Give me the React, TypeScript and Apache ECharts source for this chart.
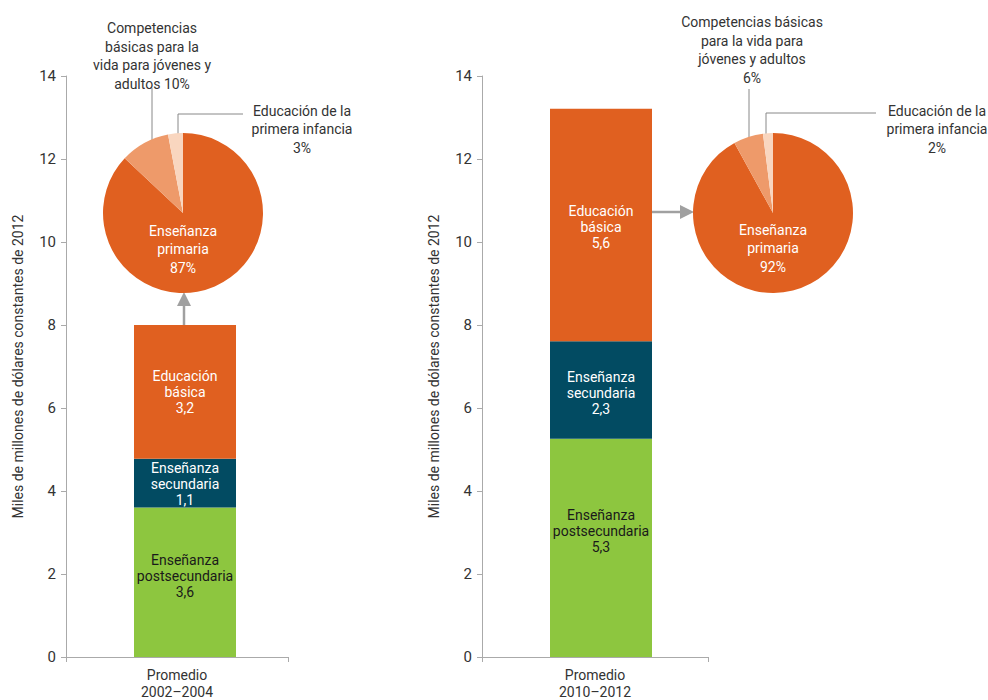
import React, { useEffect, useRef } from 'react';
import * as echarts from 'echarts';

// ---------- data ----------
const categories2002 = ['Promedio\n2002–2004'];
const categories2010 = ['Promedio\n2010–2012'];
const segmentNames = ['Enseñanza\npostsecundaria', 'Enseñanza\nsecundaria', 'Educación\nbásica'];
const values2002 = [3.6, 1.18, 3.22];
const labels2002 = ['3,6', '1,1', '3,2'];
const values2010 = [5.26, 2.35, 5.6];
const labels2010 = ['5,3', '2,3', '5,6'];

const pieNames2002 = [
  'Enseñanza\nprimaria',
  'Competencias\nbásicas para la\nvida para jóvenes y\nadultos',
  'Educación de la\nprimera infancia',
];
const pieSep2002 = ['\n', ' ', '\n'];
const pieValues2002 = [87, 10, 3];

const pieNames2010 = [
  'Enseñanza\nprimaria',
  'Competencias básicas\npara la vida para\njóvenes y adultos',
  'Educación de la\nprimera infancia',
];
const pieSep2010 = ['\n', '\n', '\n'];
const pieValues2010 = [92, 6, 2];

const yAxisTitle = 'Miles de millones de dólares constantes de 2012';
const yMin = 0;
const yMax = 14;
const yInterval = 2;

// ---------- styles ----------
const FONT = 'Roboto, "Open Sans", sans-serif';
const segmentColors = ['#8DC63F', '#024B62', '#E06020'];
const segmentLabelColors = ['#1a1a1a', '#ffffff', '#ffffff'];
const pieColors = ['#E06020', '#EE9A6A', '#F9D6BF'];
const AXIS_GRAY = '#aaaaaa';
const TEXT = '#333333';
const ARROW = '#a0a0a0';

function barSeries(g: number, values: number[], labels: string[], offsets: number[][], padWidth: number) {
  const pad = {
    type: 'bar',
    xAxisIndex: g,
    yAxisIndex: g,
    stack: 'pad' + g,
    barWidth: padWidth,
    barGap: '0%',
    data: [0],
    itemStyle: { color: 'rgba(0,0,0,0)' },
    label: { show: false },
    silent: true,
  };
  const segs = values.map((v, i) => ({
    type: 'bar',
    name: segmentNames[i].replace('\n', ' '),
    xAxisIndex: g,
    yAxisIndex: g,
    stack: 'total' + g,
    barWidth: 102,
    barGap: '0%',
    data: [v],
    itemStyle: { color: segmentColors[i] },
    silent: true,
    label: {
      show: true,
      position: 'inside',
      formatter: segmentNames[i] + '\n' + labels[i],
      color: segmentLabelColors[i],
      fontFamily: FONT,
      fontSize: 14,
      lineHeight: 16,
      offset: offsets[i],
    },
  }));
  return [pad, ...segs];
}

function pieSeries(
  center: number[],
  names: string[],
  values: number[],
  seps: string[],
  layout: any[],
) {
  return {
    type: 'pie',
    center,
    radius: 80,
    startAngle: 90,
    clockwise: true,
    avoidLabelOverlap: false,
    silent: true,
    data: names.map((n, i) => ({
      name: n,
      value: values[i],
      itemStyle: { color: pieColors[i] },
      label: { position: i === 0 ? 'inside' : 'outside', color: i === 0 ? '#ffffff' : TEXT },
      labelLine: { show: i !== 0 },
    })),
    label: {
      show: true,
      formatter: (p: any) => p.name + seps[p.dataIndex] + p.value + '%',
      fontFamily: FONT,
      fontSize: 14,
      lineHeight: 18.5,
      align: 'center',
    },
    labelLine: { lineStyle: { color: '#888888', width: 1 } },
    labelLayout: (p: any) => layout[p.dataIndex],
  };
}

function yAxis(g: number) {
  return {
    type: 'value',
    gridIndex: g,
    min: yMin,
    max: yMax,
    interval: yInterval,
    name: yAxisTitle,
    nameLocation: 'middle',
    nameGap: 41,
    nameTextStyle: { color: TEXT, fontFamily: FONT, fontSize: 14 },
    axisLine: { show: true, lineStyle: { color: AXIS_GRAY, width: 1 } },
    axisTick: { show: true, length: 5, lineStyle: { color: AXIS_GRAY } },
    axisLabel: { color: TEXT, fontFamily: FONT, fontSize: 15, margin: 10 },
    splitLine: { show: false },
  };
}

function xAxis(g: number, data: string[]) {
  return {
    type: 'category',
    gridIndex: g,
    data,
    axisLine: { show: true, lineStyle: { color: AXIS_GRAY, width: 1 } },
    axisTick: { show: true, length: 5, alignWithLabel: false, lineStyle: { color: AXIS_GRAY } },
    axisLabel: { color: TEXT, fontFamily: FONT, fontSize: 14, lineHeight: 17, margin: 9 },
  };
}

const layout2002 = [
  { x: 183, y: 249, align: 'center', verticalAlign: 'middle' },
  { x: 152, y: 56, align: 'center', verticalAlign: 'middle', labelLinePoints: [[152, 147], [152, 88], [152, 88]] },
  { x: 302, y: 129, align: 'center', verticalAlign: 'middle', labelLinePoints: [[178, 137], [178, 114], [243, 114]] },
];
const layout2010 = [
  { x: 773, y: 248, align: 'center', verticalAlign: 'middle' },
  { x: 752, y: 50, align: 'center', verticalAlign: 'middle', labelLinePoints: [[749, 146], [749, 89], [749, 89]] },
  { x: 937, y: 129, align: 'center', verticalAlign: 'middle', labelLinePoints: [[766, 137], [766, 113], [876, 113]] },
];

export default function App() {
  const ref = useRef<HTMLDivElement>(null);
  useEffect(() => {
    document.body.style.margin = '0';
    if (!ref.current) return;
    const chart = echarts.init(ref.current, null, { renderer: 'svg' });
    chart.setOption({
      animation: false,
      backgroundColor: '#ffffff',
      textStyle: { fontFamily: FONT },
      grid: [
        { left: 66, top: 76, width: 222, height: 583 },
        { left: 482, top: 76, width: 226, height: 583 },
      ],
      xAxis: [xAxis(0, categories2002), xAxis(1, categories2010)],
      yAxis: [yAxis(0), yAxis(1)],
      series: [
        ...barSeries(0, values2002, labels2002, [[0, -6], [0, 1], [0, 0]], 16),
        ...barSeries(1, values2010, labels2010, [[0, -17], [0, 3], [0, 2]], 12),
        pieSeries([183, 213], pieNames2002, pieValues2002, pieSep2002, layout2002),
        pieSeries([773, 213], pieNames2010, pieValues2010, pieSep2010, layout2010),
      ],
      graphic: [
        { type: 'line', shape: { x1: 184, y1: 326, x2: 184, y2: 305 }, style: { stroke: ARROW, lineWidth: 2.5 }, silent: true },
        { type: 'polygon', shape: { points: [[184, 292], [177, 306], [191, 306]] }, style: { fill: ARROW }, silent: true },
        { type: 'line', shape: { x1: 652, y1: 212, x2: 681, y2: 212 }, style: { stroke: ARROW, lineWidth: 2.5 }, silent: true },
        { type: 'polygon', shape: { points: [[694, 212], [680, 205], [680, 219]] }, style: { fill: ARROW }, silent: true },
      ],
    });
    return () => chart.dispose();
  }, []);
  return <div ref={ref} style={{ width: 988, height: 700 }} />;
}
